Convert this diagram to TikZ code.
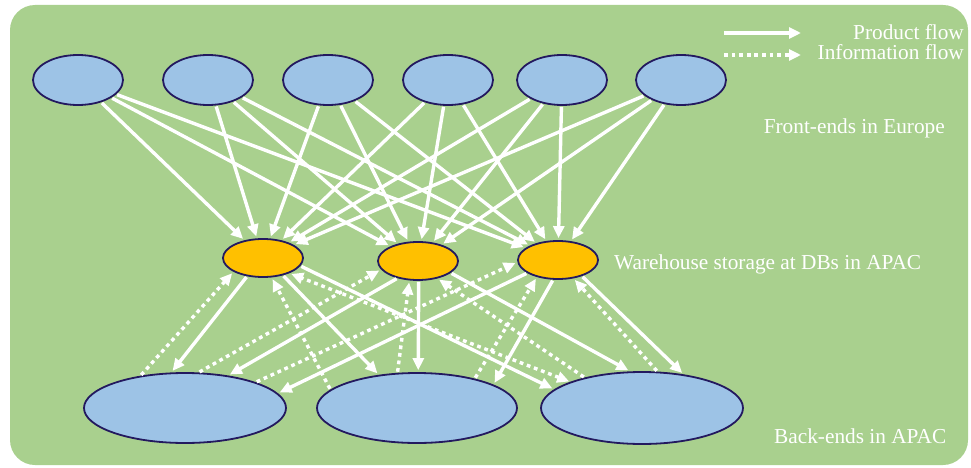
\documentclass[tikz,border=0pt]{standalone}
\usepackage{fontspec}
\setmainfont{Liberation Serif}
\usetikzlibrary{shapes.geometric,arrows.meta}
\definecolor{panelgreen}{RGB}{169,208,142}
\definecolor{endblue}{RGB}{157,195,230}
\definecolor{storeorange}{RGB}{255,192,0}
\definecolor{rimnavy}{RGB}{35,25,95}
\tikzset{
  frontend/.style={ellipse, draw=rimnavy, line width=1.8pt, fill=endblue,
    minimum width=90pt, minimum height=50pt, inner sep=0pt},
  warehouse/.style={ellipse, draw=rimnavy, line width=1.8pt, fill=storeorange,
    minimum width=80pt, minimum height=38pt, inner sep=0pt},
  backend/.style={ellipse, draw=rimnavy, line width=1.8pt, fill=endblue,
    minimum width=202pt, minimum height=70pt, inner sep=0pt},
  prodflow/.style={white, line width=3.4pt, ->, shorten >=2pt, shorten <=1pt},
  infoflow/.style={white, line width=3.4pt, dash pattern=on 3.8pt off 3.8pt, ->, shorten >=2pt, shorten <=1pt},
  caption/.style={text=white, inner sep=0pt, font=\fontsize{21.3}{23}\selectfont}
}

\begin{document}
\begin{tikzpicture}[x=1pt, y=-1pt, >={Triangle[length=12pt,width=11pt]}]
  \useasboundingbox (0,0) rectangle (971,468);
  \fill [panelgreen, rounded corners=25pt] (10,5) rectangle (968,465);

  % front-ends
  \node [frontend] (fe1) at (78,80) {};
  \node [frontend] (fe2) at (208,80) {};
  \node [frontend] (fe3) at (328,80) {};
  \node [frontend] (fe4) at (448,80) {};
  \node [frontend] (fe5) at (562,80) {};
  \node [frontend] (fe6) at (681,80) {};
  % warehouses
  \node [warehouse] (wh1) at (263,258) {};
  \node [warehouse] (wh2) at (418,261) {};
  \node [warehouse] (wh3) at (558,260) {};
  % back-ends
  \node [backend] (be1) at (185,408) {};
  \node [backend, minimum width=200pt] (be2) at (417,408) {};
  \node [backend, minimum height=72pt] (be3) at (642,408) {};

  % legend
  \coordinate (lp1) at (723,33);
  \coordinate (lp2) at (803,33);
  \coordinate (li1) at (723,55);
  \coordinate (li2) at (803,55);
  \draw [prodflow] (lp1) -- (lp2);
  \draw [infoflow] (li1) -- (li2);
  \node [caption, anchor=base east] (lgprod) at (964,40) {Product flow};
  \node [caption, anchor=base east] (lginfo) at (964,60) {Information flow};

  \node [caption, anchor=base east] (lbfront) at (945,133) {Front-ends in Europe};
  \node [caption, anchor=base west] (lbware) at (614,269) {Warehouse storage at DBs in APAC};
  \node [caption, anchor=base west] (lbback) at (774,443) {Back-ends in APAC};

  % front-ends to warehouses
  \draw [prodflow] (fe1) -- (wh1);
  \draw [prodflow] (fe1) -- (wh2);
  \draw [prodflow] (fe1) -- (wh3);
  \draw [prodflow] (fe2) -- (wh1);
  \draw [prodflow] (fe2) -- (wh2);
  \draw [prodflow] (fe2) -- (wh3);
  \draw [prodflow] (fe3) -- (wh1);
  \draw [prodflow] (fe3) -- (wh2);
  \draw [prodflow] (fe3) -- (wh3);
  \draw [prodflow] (fe4) -- (wh1);
  \draw [prodflow] (fe4) -- (wh2);
  \draw [prodflow] (fe4) -- (wh3);
  \draw [prodflow] (fe5) -- (wh1);
  \draw [prodflow] (fe5) -- (wh2);
  \draw [prodflow] (fe5) -- (wh3);
  \draw [prodflow] (fe6) -- (wh1);
  \draw [prodflow] (fe6) -- (wh2);
  \draw [prodflow] (fe6) -- (wh3);

  % warehouses to back-ends
  \draw [prodflow] (wh1.-131) -- (be1.111);
  \draw [prodflow] (wh1.-41) -- (be2.139);
  \draw [prodflow] (wh1.-12) -- (be3.168);
  \draw [prodflow] (wh2.-140) -- (be1.37);
  \draw [prodflow] (wh2.-88) -- (be2.88);
  \draw [prodflow] (wh2.-20) -- (be3.108);
  \draw [prodflow] (wh3.-157) -- (be1.9);
  \draw [prodflow] (wh3.-104) -- (be2.17);
  \draw [prodflow] (wh3.-34) -- (be3.39);

  % information back to warehouses
  \draw [infoflow] (be1.144) -- (wh1.-155);
  \draw [infoflow] (be1.69) -- (wh2.-167);
  \draw [infoflow] (be1.20) -- (wh3.-177);
  \draw [infoflow] (be2.168) -- (wh1.-66);
  \draw [infoflow] (be2.119) -- (wh2.-114);
  \draw [infoflow] (be2.27) -- (wh3.-141);
  \draw [infoflow, <->] (be3.160) -- (wh1.-30);
  \draw [infoflow] (be3.152) -- (wh2.-42);
  \draw [infoflow] (be3.67) -- (wh3.-50);
\end{tikzpicture}
\end{document}
